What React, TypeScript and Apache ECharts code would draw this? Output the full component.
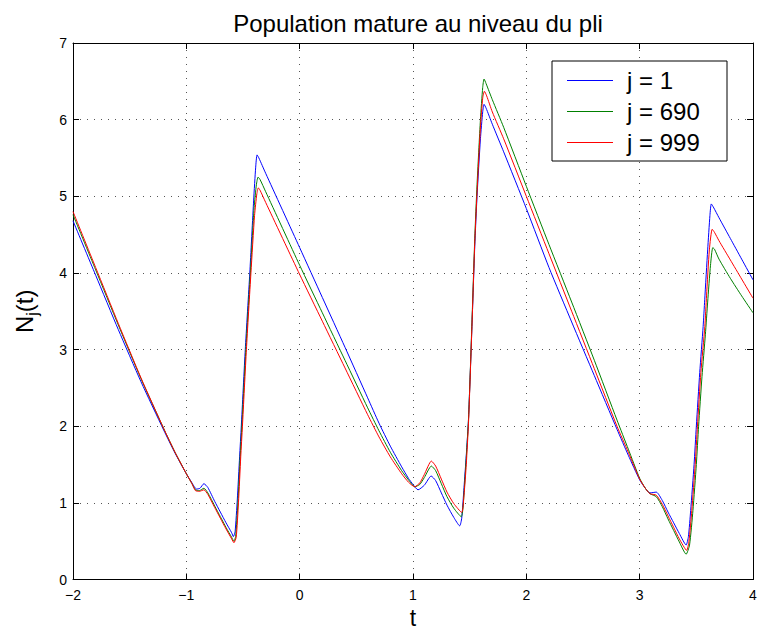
import React, { useEffect, useRef } from "react";
import * as echarts from "echarts";

const seriesNames = ["j = 1", "j = 690", "j = 999"];
const seriesColors = ["#0000ff", "#008000", "#ff0000"];

const tBlue = [-2, -1.8, -1.6, -1.4, -1.2, -1.1, -1.0, -0.95, -0.91, -0.88, -0.845, -0.81, -0.75, -0.7, -0.65, -0.6, -0.585, -0.57, -0.55, -0.53, -0.515, -0.48, -0.44, -0.406, -0.388, -0.376, -0.36, -0.3, 0, 0.2, 0.4, 0.6, 0.7, 0.8, 0.9, 0.96, 1.0, 1.044, 1.1, 1.16, 1.2, 1.25, 1.3, 1.36, 1.412, 1.43, 1.45, 1.47, 1.49, 1.52, 1.545, 1.565, 1.595, 1.615, 1.627, 1.645, 1.7, 1.8, 2.0, 2.2, 2.4, 2.6, 2.8, 2.9, 3.0, 3.05, 3.09, 3.147, 3.2, 3.25, 3.3, 3.35, 3.41, 3.43, 3.45, 3.48, 3.5, 3.53, 3.56, 3.574, 3.6, 3.62, 3.632, 3.65, 3.7, 3.8, 3.9, 4.0];
const yBlue = [4.68, 3.97, 3.26, 2.58, 1.95, 1.65, 1.38, 1.26, 1.18, 1.19, 1.25, 1.2, 1.02, 0.88, 0.74, 0.61, 0.56, 0.62, 1.05, 1.6, 2.0, 3.0, 4.0, 4.95, 5.38, 5.54, 5.5, 5.3, 4.33, 3.68, 3.03, 2.37, 2.04, 1.74, 1.47, 1.32, 1.24, 1.17, 1.23, 1.35, 1.29, 1.13, 0.97, 0.81, 0.7, 0.8, 1.2, 1.62, 2.1, 3.3, 4.35, 5.0, 5.75, 6.1, 6.2, 6.15, 5.94, 5.58, 4.84, 4.07, 3.36, 2.66, 1.96, 1.62, 1.3, 1.19, 1.13, 1.14, 1.03, 0.88, 0.74, 0.6, 0.45, 0.56, 0.9, 1.5, 2.0, 2.7, 3.3, 3.65, 4.3, 4.75, 4.9, 4.86, 4.72, 4.45, 4.18, 3.91];

const tGreen = [-2, -1.8, -1.6, -1.4, -1.2, -1.1, -1.0, -0.95, -0.92, -0.885, -0.845, -0.81, -0.75, -0.7, -0.65, -0.6, -0.58, -0.565, -0.545, -0.525, -0.51, -0.475, -0.435, -0.402, -0.382, -0.367, -0.35, -0.3, 0, 0.2, 0.4, 0.6, 0.7, 0.8, 0.9, 0.96, 1.015, 1.06, 1.1, 1.162, 1.2, 1.25, 1.3, 1.36, 1.426, 1.44, 1.46, 1.49, 1.52, 1.545, 1.565, 1.595, 1.615, 1.627, 1.645, 1.7, 1.8, 2.0, 2.2, 2.4, 2.6, 2.8, 2.9, 3.0, 3.05, 3.09, 3.147, 3.2, 3.25, 3.3, 3.35, 3.41, 3.44, 3.47, 3.5, 3.52, 3.55, 3.58, 3.6, 3.625, 3.645, 3.66, 3.7, 3.8, 3.9, 4.0];
const yGreen = [4.76, 4.04, 3.32, 2.62, 1.97, 1.66, 1.38, 1.25, 1.17, 1.16, 1.19, 1.13, 0.96, 0.82, 0.68, 0.55, 0.5, 0.56, 1.0, 1.6, 2.0, 3.0, 4.0, 4.85, 5.15, 5.25, 5.22, 5.06, 4.1, 3.48, 2.86, 2.24, 1.94, 1.66, 1.42, 1.3, 1.21, 1.24, 1.33, 1.48, 1.42, 1.25, 1.08, 0.93, 0.82, 0.92, 1.35, 2.1, 3.35, 4.45, 5.15, 6.0, 6.42, 6.53, 6.47, 6.26, 5.9, 5.13, 4.37, 3.62, 2.86, 2.08, 1.7, 1.32, 1.19, 1.12, 1.08, 0.95, 0.79, 0.64, 0.49, 0.33, 0.45, 0.9, 1.5, 2.0, 2.65, 3.2, 3.62, 4.1, 4.33, 4.31, 4.18, 3.93, 3.7, 3.48];

const tRed = [-2, -1.8, -1.6, -1.4, -1.2, -1.1, -1.0, -0.95, -0.92, -0.885, -0.845, -0.81, -0.75, -0.7, -0.65, -0.6, -0.58, -0.56, -0.54, -0.52, -0.505, -0.47, -0.43, -0.398, -0.378, -0.365, -0.35, -0.3, 0, 0.2, 0.4, 0.6, 0.7, 0.8, 0.9, 0.96, 1.015, 1.06, 1.1, 1.162, 1.2, 1.25, 1.3, 1.36, 1.43, 1.45, 1.47, 1.49, 1.52, 1.545, 1.565, 1.595, 1.615, 1.63, 1.65, 1.7, 1.8, 2.0, 2.2, 2.4, 2.6, 2.8, 2.9, 3.0, 3.05, 3.09, 3.147, 3.2, 3.25, 3.3, 3.35, 3.415, 3.435, 3.46, 3.49, 3.51, 3.54, 3.575, 3.59, 3.615, 3.64, 3.66, 3.7, 3.8, 3.9, 4.0];
const yRed = [4.8, 4.07, 3.34, 2.63, 1.97, 1.66, 1.38, 1.25, 1.16, 1.15, 1.17, 1.11, 0.94, 0.8, 0.66, 0.53, 0.48, 0.55, 1.0, 1.6, 2.0, 3.0, 4.0, 4.75, 5.03, 5.11, 5.08, 4.92, 3.98, 3.37, 2.76, 2.15, 1.86, 1.6, 1.38, 1.27, 1.21, 1.26, 1.37, 1.545, 1.48, 1.31, 1.14, 0.99, 0.875, 1.1, 1.5, 2.05, 3.3, 4.4, 5.05, 5.9, 6.28, 6.37, 6.31, 6.1, 5.75, 5.0, 4.25, 3.5, 2.75, 2.0, 1.66, 1.31, 1.19, 1.12, 1.1, 0.98, 0.83, 0.68, 0.53, 0.38, 0.5, 0.9, 1.5, 2.0, 2.7, 3.3, 3.7, 4.3, 4.57, 4.53, 4.42, 4.17, 3.92, 3.67];

const xMin = -2, xMax = 4, xStep = 1;
const yMin = 0, yMax = 7, yStep = 1;
const titleText = "Population mature au niveau du pli";
const xName = "t";

const FONT = "'Liberation Sans', Arial, Helvetica, sans-serif";

export default function App() {
  const ref = useRef<HTMLDivElement>(null);
  useEffect(() => {
    const chart = echarts.init(ref.current!, null, { renderer: "svg" });
    const pairs = (t: number[], y: number[]) => t.map((v, i) => [v, y[i]]);
    const fmt = (v: number) => (v < 0 ? "\u2212" + Math.abs(v) : String(v));
    const gridLine = { show: true, lineStyle: { color: "#555", type: [1, 6], width: 1 } };
    const axLine = { show: true, onZero: false, lineStyle: { color: "#000", width: 1 } };
    const tick = { show: true, inside: true, length: 6, lineStyle: { color: "#000" } };
    const allT = [tBlue, tGreen, tRed];
    const allY = [yBlue, yGreen, yRed];

    chart.setOption({
      animation: false,
      backgroundColor: "#fff",
      textStyle: { fontFamily: FONT },
      title: {
        text: titleText,
        left: 413,
        top: 6,
        textAlign: "center",
        textStyle: { fontSize: 24, fontWeight: "normal", color: "#000", fontFamily: FONT },
      },
      grid: { left: 73, right: 6, top: 43, bottom: 50.5, outerBoundsMode: "none" },
      xAxis: [
        {
          type: "value", min: xMin, max: xMax, interval: xStep, position: "bottom",
          axisLine: axLine, axisTick: tick,
          axisLabel: { formatter: fmt, fontSize: 14, color: "#000", margin: 8, fontFamily: FONT },
          splitLine: gridLine,
          name: xName, nameLocation: "middle", nameGap: 19,
          nameTextStyle: { fontSize: 23, color: "#000", fontFamily: FONT },
        },
        {
          type: "value", min: xMin, max: xMax, interval: xStep, position: "top",
          axisLine: axLine, axisTick: tick, axisLabel: { show: false }, splitLine: { show: false },
        },
      ],
      yAxis: [
        {
          type: "value", min: yMin, max: yMax, interval: yStep, position: "left",
          axisLine: axLine, axisTick: tick,
          axisLabel: { formatter: fmt, fontSize: 14, color: "#000", margin: 6, fontFamily: FONT },
          splitLine: gridLine,
          name: "{a|N}{b|j}{a|(t)}", nameLocation: "middle", nameGap: 33, nameRotate: 90,
          nameTextStyle: {
            fontSize: 24, color: "#000", fontFamily: FONT,
            rich: {
              a: { fontSize: 24, lineHeight: 32, color: "#000", fontFamily: FONT },
              b: { fontSize: 16, lineHeight: 14, verticalAlign: "bottom", color: "#000", fontFamily: FONT },
            },
          },
        },
        {
          type: "value", min: yMin, max: yMax, interval: yStep, position: "right",
          axisLine: axLine, axisTick: tick, axisLabel: { show: false }, splitLine: { show: false },
        },
      ],
      graphic: [
        {
          type: "rect", z: 10,
          shape: { x: 552, y: 61, width: 175, height: 100 },
          style: { fill: "#fff", stroke: "#000", lineWidth: 1 },
        },
      ],
      legend: {
        orient: "vertical", left: 552, top: 61, z: 20,
        data: seriesNames,
        icon: "rect",
        itemWidth: 46, itemHeight: 1, itemGap: 6,
        padding: [7, 10, 6, 15],
        textStyle: { fontSize: 24, color: "#000", lineHeight: 25, padding: [0, 0, 0, 9], fontFamily: FONT },
      },
      series: seriesNames.map((name, i) => ({
        name, type: "line", xAxisIndex: 0, yAxisIndex: 0,
        data: pairs(allT[i], allY[i]),
        symbol: "none", smooth: 0.2,
        lineStyle: { color: seriesColors[i], width: 1 },
        itemStyle: { color: seriesColors[i] },
      })),
    });
    return () => chart.dispose();
  }, []);
  return <div ref={ref} style={{ position: "fixed", left: 0, top: 0, width: 759, height: 630 }} />;
}
